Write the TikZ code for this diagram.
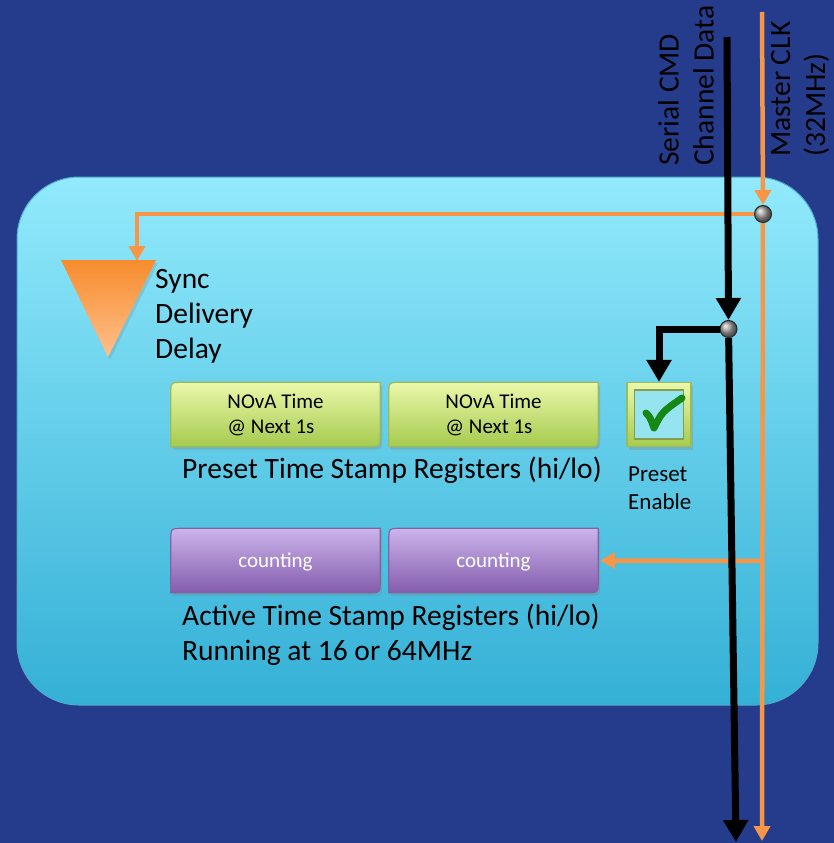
\documentclass[tikz,border=0pt]{standalone}
\usepackage{fontspec}
\setmainfont{Carlito}
\usetikzlibrary{arrows.meta,shadows}
\pgfdeclarelayer{back}
\pgfdeclarelayer{boxes}
\pgfsetlayers{back,boxes,main}
\definecolor{bgblue}{RGB}{36,60,139}
\definecolor{paneltop}{RGB}{146,234,252}
\definecolor{panelbot}{RGB}{52,176,214}
\definecolor{panelline}{RGB}{80,170,205}
\definecolor{clk}{RGB}{247,150,70}
\definecolor{gtop}{RGB}{234,248,170}
\definecolor{gbot}{RGB}{166,202,78}
\definecolor{gline}{RGB}{155,187,89}
\definecolor{ptop}{RGB}{204,180,236}
\definecolor{pbot}{RGB}{132,92,172}
\definecolor{pline}{RGB}{128,100,162}
\definecolor{tritop}{RGB}{247,140,45}
\definecolor{tribot}{RGB}{255,192,140}
\definecolor{checkgreen}{RGB}{20,135,20}
\definecolor{chkinner}{RGB}{150,228,240}
\newcommand\diagshape[2]{\path[#2] (#1.south west) -- ([yshift=-12pt]#1.north west) .. controls (#1.north west) .. ([xshift=12pt]#1.north west) -- (#1.north east) -- ([yshift=12pt]#1.south east) .. controls (#1.south east) .. ([xshift=-12pt]#1.south east) -- cycle;}
\tikzset{
  lbl/.style={inner sep=0pt, text=black, font=\fontsize{29.5}{35}\selectfont, align=left},
  smalllbl/.style={inner sep=0pt, text=black, font=\fontsize{23}{28}\selectfont, align=left},
  regbox/.style={rectangle, minimum width=209pt, minimum height=64pt, inner sep=0pt, align=left, font=\fontsize{21}{25}\selectfont},
  greenshape/.style={top color=gtop, bottom color=gbot, draw=gline, line width=1.2pt, drop shadow={opacity=0.3,shadow xshift=2pt,shadow yshift=-3pt}},
  purpleshape/.style={top color=ptop, bottom color=pbot, draw=pline, line width=1.2pt, drop shadow={opacity=0.3,shadow xshift=2pt,shadow yshift=-3pt}},
  panel/.style={rectangle, rounded corners=62pt, minimum width=801pt, minimum height=528pt, top color=paneltop, bottom color=panelbot, draw=panelline, line width=1pt},
  junction/.style={circle, minimum size=17pt, inner sep=0pt, ball color=gray!75, draw=black!85, line width=1pt},
  dataline/.style={line width=7pt, draw=black, -{Triangle[length=22pt,width=24pt]}},
  clkline/.style={line width=4.5pt, draw=clk, -{Triangle[length=15pt,width=16pt]}},
}
\begin{document}
\begin{tikzpicture}[x=1pt,y=-1pt]
\useasboundingbox (0,0) rectangle (834,843);
\begin{pgfonlayer}{back}
\fill[bgblue] (0,0) rectangle (834,843);
\node[panel] (panel) at (417.5,441) {};
\end{pgfonlayer}

% rotated signal labels
\node[lbl, rotate=90, anchor=west] (serlbl) at (686,166) {Serial CMD\\Channel Data};
\node[lbl, rotate=90, anchor=west] (clklbl) at (800,157) {Master CLK\\(32MHz)};

% triangle
\path[top color=tritop, bottom color=tribot, drop shadow={opacity=0.25,shadow xshift=2pt,shadow yshift=-3pt}] (61,260) -- (156,260) -- (108,357) -- cycle;
\coordinate (tri) at (137,261);
\node[lbl, anchor=north west] (synclbl) at (155,269) {Sync\\Delivery\\Delay};

% registers
\node[regbox] (g1) at (275.5,414.5) {NOvA Time\\@ Next 1s};
\node[regbox] (g2) at (493.5,414.5) {NOvA Time\\@ Next 1s};
\node[regbox, text=white, text height=17pt, text depth=3pt] (p1) at (275.5,560.5) {counting};
\node[regbox, text=white, text height=17pt, text depth=3pt] (p2) at (493.5,560.5) {counting};
\begin{pgfonlayer}{boxes}
\diagshape{g1}{greenshape}
\diagshape{g2}{greenshape}
\diagshape{p1}{purpleshape}
\diagshape{p2}{purpleshape}
\end{pgfonlayer}
\node[lbl, anchor=north west] (presetlbl) at (182,457) {Preset Time Stamp Registers (hi/lo)};
\node[lbl, anchor=north west] (activelbl) at (182,604) {Active Time Stamp Registers (hi/lo)\\Running at 16 or 64MHz};

% checkbox
\node[rectangle, minimum size=64pt, inner sep=0pt, top color=gtop, bottom color=gbot, draw=gline, line width=1.2pt, drop shadow={opacity=0.3,shadow xshift=2pt,shadow yshift=-3pt}] (chk) at (659,414.5) {};
\fill[chkinner, draw=gline!85!black, line width=1.5pt] ([xshift=8pt,yshift=-8pt]chk.north west) rectangle ([xshift=-8pt,yshift=8pt]chk.south east);
\draw[checkgreen, line width=7pt, line cap=round, line join=round] (646,413) .. controls (650,417) .. (654,428) .. controls (662,412) .. (682,398);
\node[smalllbl, anchor=north west] (enlbl) at (628,467) {Preset\\Enable};

% junctions
\node[junction] (jc) at (763,214) {};
\node[junction] (jd) at (728.5,329) {};
\coordinate (ctop) at (762,12);
\coordinate (cbot) at (762,841);
\coordinate (ctap) at (762,561);
\coordinate (dtop) at (727,37);
\coordinate (dbot) at (736,842);

% clock connectors
\draw[clkline] (ctop) -- (jc.north);
\draw[clkline] (jc) -- (cbot);
\draw[clkline] (jc) -| (tri);
\draw[clkline] (ctap) -- ([xshift=2pt]p2.east);

% data connectors
\draw[dataline] (dtop) -- (jd.north);
\draw[dataline] (jd) -- (dbot);
\draw[dataline] (jd) -| (chk.north);
\end{tikzpicture}
\end{document}
